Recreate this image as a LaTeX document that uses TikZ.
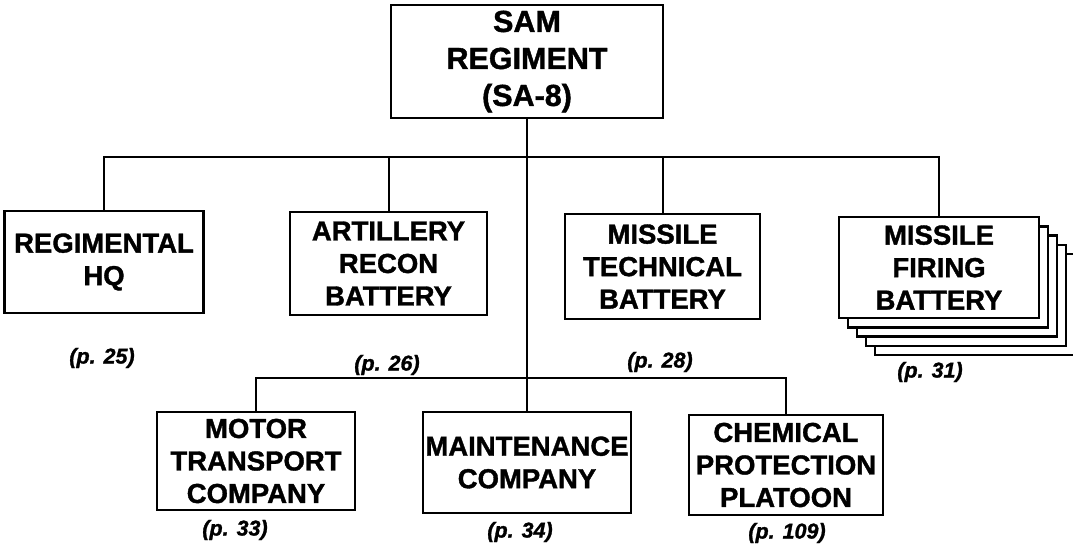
\documentclass[tikz,border=0pt]{standalone}
\usepackage{fontspec}
\setmainfont{Liberation Sans}
\newfontfamily\heavyfont[FakeBold=1.3]{Liberation Sans Bold}
\newfontfamily\heavyitfont[FakeBold=1.3]{Liberation Sans Bold Italic}
\begin{document}
\begin{tikzpicture}[x=1pt,y=-1pt,
  box/.style={draw, line width=2.2pt, fill=white, inner sep=0pt, align=center,
    font=\fontsize{27.5}{32.5}\heavyfont},
  pg/.style={inner sep=0pt, font=\fontsize{21.5}{23}\heavyitfont},
  conn/.style={line width=2pt}]
\useasboundingbox (0,0) rectangle (1073,556);
% top
\node[box, minimum width=272pt, minimum height=113pt,
  font=\fontsize{30.5}{37}\heavyfont] (top) at (527,61.5) {SAM\\REGIMENT\\(SA-8)};
% second row
\node[box, minimum width=199pt, minimum height=102pt] (hq) at (104,262) {REGIMENTAL\\HQ};
\node[box, minimum width=197pt, minimum height=103pt] (art) at (388.5,263.5) {ARTILLERY\\RECON\\BATTERY};
\node[box, minimum width=195pt, minimum height=105pt] (tech) at (662.5,266.5) {MISSILE\\TECHNICAL\\BATTERY};
% stacked firing batteries
\node[box, minimum width=200pt, minimum height=101pt] (fire4) at (975,304.5) {};
\node[box, minimum width=200pt, minimum height=101pt] (fire3) at (966,295.5) {};
\node[box, minimum width=200pt, minimum height=101pt] (fire2) at (957,286) {};
\node[box, minimum width=200pt, minimum height=101pt] (fire1) at (948,277) {};
\node[box, minimum width=200pt, minimum height=101pt] (fire) at (939,267.5) {MISSILE\\FIRING\\BATTERY};
% third row
\node[box, minimum width=198pt, minimum height=98pt] (motor) at (256,461) {MOTOR\\TRANSPORT\\COMPANY};
\node[box, minimum width=208pt, minimum height=101pt] (maint) at (527,462.5) {MAINTENANCE\\COMPANY};
\node[box, minimum width=194pt, minimum height=100pt] (chem) at (786,465) {CHEMICAL\\PROTECTION\\PLATOON};
% page labels
\node[pg] (p25) at (102,358) {(p. 25)};
\node[pg] (p26) at (387,365) {(p. 26)};
\node[pg] (p28) at (660,362) {(p. 28)};
\node[pg] (p31) at (930,372) {(p. 31)};
\node[pg] (p33) at (235,530) {(p. 33)};
\node[pg] (p34) at (520,532) {(p. 34)};
\node[pg] (p109) at (787,533) {(p. 109)};
% connectors
\coordinate (bus1) at (0,157);
\coordinate (bus2) at (0,378);
\draw[conn] (top.south) -- (maint.north);
\draw[conn] (hq.north) |- (bus1 -| fire.north) -- (fire.north);
\draw[conn] (art.north) -- (art.north |- bus1);
\draw[conn] (tech.north) -- (tech.north |- bus1);
\draw[conn] (motor.north) |- (bus2 -| chem.north) -- (chem.north);
\end{tikzpicture}
\end{document}
